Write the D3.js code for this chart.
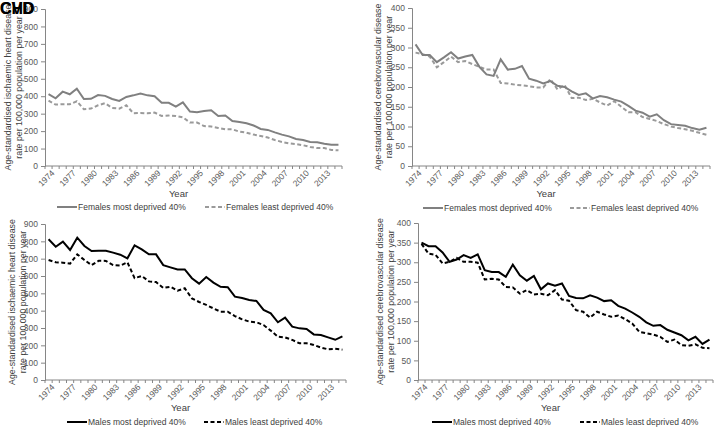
<!DOCTYPE html>
<html><head><meta charset="utf-8">
<script src="https://cdn.jsdelivr.net/npm/d3@7"></script>
<style>body{margin:0;background:#fff}svg{display:block;font-family:"Liberation Sans",Arial,sans-serif}</style>
</head><body><svg id="c" width="715" height="428"></svg>
<script>
const years = d3.range(1974, 2016);
const tickYears = [1974,1977,1980,1983,1986,1989,1992,1995,1998,2001,2004,2007,2010,2013];

const femIhdMost = [412,388,426,411,443,384,385,407,402,384,373,396,405,416,405,400,363,362,340,365,312,308,315,320,287,290,258,252,245,232,212,207,193,180,170,155,149,138,136,128,122,122];
const femIhdLeast = [375,352,354,354,371,325,329,348,360,333,329,348,302,304,302,306,287,289,287,279,249,249,229,226,218,210,210,197,191,180,172,163,149,138,130,126,119,109,103,103,92,90];
const femCvdMost = [308,281,281,263,275,288,272,277,281,251,232,228,270,244,246,253,221,216,209,215,203,200,189,180,184,171,177,174,168,163,152,140,135,125,131,116,106,104,102,96,92,97];
const femCvdLeast = [287,283,277,250,263,277,263,266,258,251,244,244,210,209,206,204,202,199,199,220,194,205,172,173,167,170,161,153,164,150,136,136,124,119,114,106,100,96,93,89,84,79];
const maleIhdMost = [812,769,798,750,821,773,744,746,746,735,723,702,777,754,725,725,663,650,638,638,587,556,594,562,538,535,481,473,462,456,404,385,333,360,308,298,294,263,260,246,232,252];
const maleIhdLeast = [692,679,677,671,725,692,663,688,687,663,660,679,588,600,569,565,531,538,515,529,471,450,433,413,394,394,369,350,337,333,317,285,250,246,231,212,212,202,187,177,180,175];
const maleCvdMost = [350,341,341,325,301,307,318,311,320,280,275,275,263,294,267,253,265,231,246,240,246,214,209,208,216,210,201,203,189,182,172,161,147,138,140,128,121,114,101,110,92,103];
const maleCvdLeast = [347,322,319,297,301,311,301,301,299,256,258,256,237,236,220,229,218,220,216,229,205,202,178,174,159,174,167,161,164,155,144,123,119,116,110,97,103,89,87,91,82,81];

const ihdTitle = ["Age-standardised ischaemic heart disease","rate per 100,000 population per year"];
const cvdTitle = ["Age-standardised cerebrovascular disease","rate per 100,000 population per year"];

const panels = [
  {l:45,r:342,t:9,b:166,ymax:900,step:100,title:ihdTitle,tx:[8,19],most:femIhdMost,least:femIhdLeast,
   names:["Females most deprived 40%","Females least deprived 40%"],col:"#808080",dcol:"#9a9a9a",leg:[57,205],legY:207},
  {l:412,r:710,t:8,b:166,ymax:400,step:50,title:cvdTitle,tx:[378,389],most:femCvdMost,least:femCvdLeast,
   names:["Females most deprived 40%","Females least deprived 40%"],col:"#808080",dcol:"#9a9a9a",leg:[423,570],legY:208},
  {l:45,r:346,t:224,b:380,ymax:900,step:100,title:ihdTitle,tx:[12,23],most:maleIhdMost,least:maleIhdLeast,
   names:["Males most deprived 40%","Males least deprived 40%"],col:"#000",dcol:"#000",leg:[67,204],legY:422},
  {l:418,r:713,t:223,b:380,ymax:400,step:50,title:cvdTitle,tx:[380,391],most:maleCvdMost,least:maleCvdLeast,
   names:["Males most deprived 40%","Males least deprived 40%"],col:"#000",dcol:"#000",leg:[432,580],legY:422}
];

const svg = d3.select("#c");
const axisCol = "#868686", tickTxt = "#595959", titleCol = "#404040";

panels.forEach(p => {
  const g = svg.append("g");
  const xb = d3.scaleBand().domain(years).range([p.l, p.r]);
  const x = d3.scalePoint().domain(years).range([p.l, p.r]).padding(0.5);
  const y = d3.scaleLinear().domain([0, p.ymax]).range([p.b, p.t]);

  const ya = d3.axisLeft(y).tickValues(d3.range(0, p.ymax + 1, p.step)).tickSize(4).tickPadding(3);
  const yg = g.append("g").attr("transform", `translate(${p.l},0)`).call(ya);
  yg.select(".domain").attr("stroke", axisCol);
  yg.selectAll(".tick line").attr("stroke", axisCol);
  yg.selectAll(".tick text").attr("fill", tickTxt).style("font-size", "8.5px").style("font-family", "'Liberation Sans',Arial,sans-serif");

  g.append("line").attr("x1", p.l).attr("x2", p.r).attr("y1", p.b).attr("y2", p.b).attr("stroke", axisCol);
  const bounds = years.map(yv => xb(yv)).concat([xb(years[years.length-1]) + xb.bandwidth()]);
  g.selectAll(".xt").data(bounds).join("line").attr("class", "xt").attr("x1", d => d).attr("x2", d => d)
    .attr("y1", p.b).attr("y2", p.b + 3).attr("stroke", axisCol);
  g.selectAll(".xl").data(tickYears).join("text").attr("class", "xl")
    .attr("transform", d => `translate(${x(d) + 3},${p.b + 4}) rotate(-45)`)
    .attr("text-anchor", "end").attr("dy", "0.6em")
    .attr("fill", tickTxt).style("font-size", "8.5px").text(d => d);

  const cy = (p.t + p.b) / 2;
  p.title.forEach((t, i) => {
    g.append("text").attr("transform", `translate(${p.tx[i]},${cy}) rotate(-90)`)
      .attr("text-anchor", "middle").attr("dy", "0.35em").attr("fill", titleCol)
      .style("font-size", "8.8px").text(t);
  });
  g.append("text").attr("x", (p.l + p.r) / 2 - 15).attr("y", p.b + 31).attr("text-anchor", "middle")
    .attr("fill", titleCol).style("font-size", "9.5px").text("Year");

  const line = d3.line().x((d, i) => x(years[i])).y(d => y(d));
  g.append("path").attr("d", line(p.least)).attr("fill", "none").attr("stroke", p.dcol)
    .attr("stroke-width", 2).attr("stroke-dasharray", "4,2.5");
  g.append("path").attr("d", line(p.most)).attr("fill", "none").attr("stroke", p.col)
    .attr("stroke-width", 2);

  [0, 1].forEach(k => {
    const lx = p.leg[k];
    g.append("line").attr("x1", lx).attr("x2", lx + 20).attr("y1", p.legY).attr("y2", p.legY)
      .attr("stroke", k === 0 ? p.col : p.dcol).attr("stroke-width", 2)
      .attr("stroke-dasharray", k === 0 ? null : "4,2.5");
    g.append("text").attr("x", lx + 21).attr("y", p.legY).attr("dy", "0.35em")
      .attr("fill", titleCol).style("font-size", "8.5px").text(p.names[k]);
  });
});

svg.append("text").attr("x", 0).attr("y", 14).style("font-weight", "bold").style("font-size", "16px").attr("fill", "#000").text("CHD");
svg.append("text").attr("x", 0).attr("y", 14).style("font-weight", "bold").style("font-size", "16px").attr("fill", "#000").text("CVD");
</script></body></html>
